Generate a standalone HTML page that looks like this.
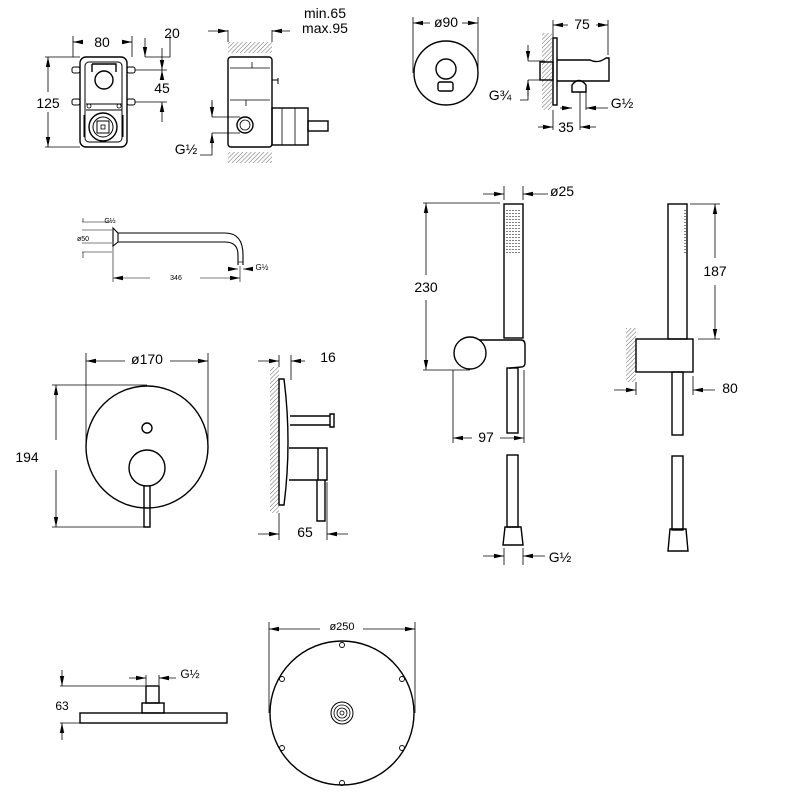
<!DOCTYPE html>
<html><head><meta charset="utf-8"><style>
html,body{margin:0;padding:0;background:#fff}
svg{display:block}
text{font-family:"Liberation Sans",sans-serif;fill:#000}
</style></head><body>
<svg width="800" height="800" viewBox="0 0 800 800" xmlns="http://www.w3.org/2000/svg">
<defs>
<marker id="a" viewBox="0 0 10 6" refX="10" refY="3" markerWidth="10" markerHeight="6" orient="auto-start-reverse" markerUnits="userSpaceOnUse"><path d="M0,0.8 L10,3 L0,5.2z" fill="#000"/></marker>
<pattern id="h" width="3" height="3" patternUnits="userSpaceOnUse" patternTransform="rotate(45)"><line x1="0" y1="0" x2="0" y2="3" stroke="#000" stroke-width="0.6"/></pattern>
</defs>
<g fill="none" stroke="#000" stroke-width="1.4">
<!-- Box front -->
<rect x="80" y="57" width="47" height="90" rx="6"/>
<rect x="85" y="62" width="37" height="80" rx="4" stroke-width="1"/>
<circle cx="104" cy="80" r="9"/>
<path d="M92 64 h24 v8 M92 64 v8"/>
<rect x="72" y="67" width="8" height="6" rx="2" stroke-width="1"/>
<rect x="127" y="67" width="8" height="6" rx="2" stroke-width="1"/>
<rect x="72" y="99" width="8" height="6" rx="2" stroke-width="1"/>
<rect x="127" y="99" width="8" height="6" rx="2" stroke-width="1"/>
<path d="M86 104 h36 M86 110 h36" stroke-width="1"/>
<circle cx="89" cy="106" r="2" stroke-width="0.8"/><circle cx="119" cy="106" r="2" stroke-width="0.8"/>
<circle cx="103" cy="127" r="14"/>
<circle cx="103" cy="127" r="10" stroke-width="1"/>
<rect x="97" y="121" width="12" height="12" stroke-width="1"/>
<rect x="101" y="125" width="4" height="4" stroke-width="0.8"/>
<path d="M84 115 v22 M123 115 v22" stroke-width="1"/>
<g stroke-width="0.8">
<path d="M73 57 V36 M132 57 V36 M45 57 H80 M45 147 H80 M145 57 H170 V35 M135 70 H167 M135 102 H167"/>
<line x1="73" y1="42" x2="82" y2="42"/><line x1="122" y1="42" x2="132" y2="42"/>
</g>
<line x1="82" y1="42" x2="73" y2="42" marker-end="url(#a)" stroke-width="0.8"/>
<line x1="122" y1="42" x2="132" y2="42" marker-end="url(#a)" stroke-width="0.8"/>
<line x1="48" y1="92" x2="48" y2="57" marker-end="url(#a)" stroke-width="0.8"/>
<line x1="48" y1="112" x2="48" y2="147" marker-end="url(#a)" stroke-width="0.8"/>
<line x1="145" y1="38" x2="145" y2="57" marker-end="url(#a)" stroke-width="0.8"/>
<line x1="162" y1="48" x2="162" y2="70" marker-end="url(#a)" stroke-width="0.8"/>
<line x1="162" y1="78" x2="162" y2="70" marker-end="url(#a)" stroke-width="0.8"/>
<line x1="162" y1="122" x2="162" y2="102" marker-end="url(#a)" stroke-width="0.8"/>
</g>
<text x="102" y="47" font-size="14" text-anchor="middle">80</text>
<text x="172" y="38" font-size="14" text-anchor="middle">20</text>
<text x="162" y="93" font-size="14" text-anchor="middle">45</text>
<text x="48" y="108" font-size="14" text-anchor="middle">125</text>

<!-- Box side -->
<rect x="228" y="42" width="44" height="11" fill="url(#h)"/>
<rect x="228" y="152" width="44" height="11" fill="url(#h)"/>
<g fill="none" stroke="#000" stroke-width="1.4">
<rect x="228" y="57" width="44" height="90" rx="3"/>
<path d="M230 68 H270 M230 100 H270 M252 68 V62 M246 100 V106" stroke-width="0.8"/>
<circle cx="245" cy="125" r="8"/><circle cx="245" cy="125" r="5" stroke-width="0.8"/>
<path d="M272 80 h6 M278 78 v6" stroke-width="1"/>
<rect x="272" y="108" width="36" height="37"/>
<path d="M282 108 v37 M295 108 v37" stroke-width="0.8"/>
<rect x="308" y="121" width="20" height="10"/>
<g stroke-width="0.8">
<path d="M228 30 V42 M272 30 V42 M212 117 H240 M212 133 H240 M212 100 V117 M212 133 V155 H200"/>
</g>
<line x1="212" y1="25" x2="228" y2="30" stroke="none"/>
<line x1="208" y1="31" x2="228" y2="31" marker-end="url(#a)" stroke-width="0.8"/>
<line x1="290" y1="31" x2="272" y2="31" marker-end="url(#a)" stroke-width="0.8"/>
<line x1="212" y1="102" x2="212" y2="117" marker-end="url(#a)" stroke-width="0.8"/>
<line x1="212" y1="148" x2="212" y2="133" marker-end="url(#a)" stroke-width="0.8"/>
</g>
<text x="325" y="18" font-size="14" text-anchor="middle">min.65</text>
<text x="325" y="33" font-size="14" text-anchor="middle">max.95</text>
<text x="186" y="154" font-size="14" text-anchor="middle">G½</text>

<!-- Wall outlet front -->
<g fill="none" stroke="#000" stroke-width="1.4">
<circle cx="446" cy="73" r="32"/>
<circle cx="446" cy="69" r="10"/>
<rect x="438" y="82" width="15" height="9" rx="2"/>
<g stroke-width="0.8"><path d="M413 73 V17 M478 73 V17"/></g>
<line x1="430" y1="23" x2="413" y2="23" marker-end="url(#a)" stroke-width="0.8"/>
<line x1="462" y1="23" x2="478" y2="23" marker-end="url(#a)" stroke-width="0.8"/>
</g>
<text x="446" y="27" font-size="14" text-anchor="middle">ø90</text>
<!-- Wall outlet side -->
<rect x="542" y="33" width="10" height="77" fill="url(#h)"/>
<g fill="none" stroke="#000" stroke-width="1.4">
<rect x="553" y="38" width="4" height="67"/>
<rect x="540" y="62" width="13" height="18"/>
<path d="M557 60 H590 Q598 64 606 58 H609 V81 H557"/>
<path d="M572 92 V85 Q579 76 586 85 V92 Z"/>
<g stroke-width="0.8"><path d="M553 38 V20 M608 55 V20 M553 110 V130 M580 92 V130 M586 92 V110 M528 61 H545 M528 80 H545 M528 80 V100 H520"/></g>
<line x1="568" y1="25" x2="553" y2="25" marker-end="url(#a)" stroke-width="0.8"/>
<line x1="596" y1="25" x2="608" y2="25" marker-end="url(#a)" stroke-width="0.8"/>
<line x1="538" y1="127" x2="553" y2="127" marker-end="url(#a)" stroke-width="0.8"/>
<line x1="596" y1="127" x2="580" y2="127" marker-end="url(#a)" stroke-width="0.8"/>
<line x1="560" y1="108" x2="572" y2="108" marker-end="url(#a)" stroke-width="0.8"/>
<line x1="608" y1="108" x2="586" y2="108" marker-end="url(#a)" stroke-width="0.8"/>
<line x1="528" y1="45" x2="528" y2="61" marker-end="url(#a)" stroke-width="0.8"/>
<line x1="528" y1="96" x2="528" y2="80" marker-end="url(#a)" stroke-width="0.8"/>
</g>
<text x="582" y="29" font-size="14" text-anchor="middle">75</text>
<text x="566" y="132" font-size="14" text-anchor="middle">35</text>
<text x="500" y="100" font-size="14" text-anchor="middle">G¾</text>
<text x="622" y="108" font-size="14" text-anchor="middle">G½</text>

<!-- Spout -->
<g fill="none" stroke="#000" stroke-width="1.1">
<path d="M113 228 L118 233 V242 L113 246 Z"/>
<path d="M118 233 H225 Q243 233 243 255 V265 M118 242 H225 Q238 242 238 255 V265"/>
<path d="M238 262 h5" stroke-width="0.7"/>
<g stroke-width="0.6"><path d="M113 246 V282 M240 266 V282 M82 222 H112 M82 230 H112 M82 243 H112 M82 252 H112 M83 218 V222 M83 252 V258"/></g>
<line x1="150" y1="278" x2="113" y2="278" marker-end="url(#a)" stroke-width="0.6"/>
<line x1="200" y1="278" x2="240" y2="278" marker-end="url(#a)" stroke-width="0.6"/>
<line x1="230" y1="269" x2="238" y2="269" marker-end="url(#a)" stroke-width="0.6"/>
<line x1="252" y1="269" x2="243" y2="269" marker-end="url(#a)" stroke-width="0.6"/>
</g>
<text x="176" y="280" font-size="7" text-anchor="middle">346</text>
<text x="83" y="241" font-size="7" text-anchor="middle">ø50</text>
<text x="110" y="223" font-size="7" text-anchor="middle">G½</text>
<text x="262" y="270" font-size="8" text-anchor="middle">G½</text>

<!-- Mixer front -->
<g fill="none" stroke="#000" stroke-width="1.4">
<circle cx="147" cy="447" r="61"/>
<circle cx="147" cy="428" r="5"/>
<circle cx="147" cy="468" r="18"/>
<path d="M144 486 V527 H150 V486"/>
<g stroke-width="0.8"><path d="M86 447 V353 M208 447 V353 M52 385 H147 M52 527 H147"/></g>
<line x1="125" y1="361" x2="86" y2="361" marker-end="url(#a)" stroke-width="0.8"/>
<line x1="170" y1="361" x2="208" y2="361" marker-end="url(#a)" stroke-width="0.8"/>
<line x1="56" y1="440" x2="56" y2="385" marker-end="url(#a)" stroke-width="0.8"/>
<line x1="56" y1="470" x2="56" y2="527" marker-end="url(#a)" stroke-width="0.8"/>
</g>
<text x="147" y="364" font-size="14" text-anchor="middle">ø170</text>
<text x="27" y="462" font-size="14" text-anchor="middle">194</text>
<!-- Mixer side -->
<rect x="270" y="367" width="9" height="146" fill="url(#h)"/>
<g fill="none" stroke="#000" stroke-width="1.4">
<path d="M279 379 H284 Q292 442 284 505 H279 Z"/>
<path d="M290 416 H330 M290 425 H330 M330 414 H334 V427 H330 Z"/>
<path d="M289 448 H327 V480 H289 M318 448 V480"/>
<path d="M317 480 V521 H325 V480"/>
<g stroke-width="0.8"><path d="M279 367 V355 M291 380 V355 M279 513 V540 M327 482 V540"/></g>
<line x1="258" y1="361" x2="279" y2="361" marker-end="url(#a)" stroke-width="0.8"/>
<line x1="305" y1="361" x2="291" y2="361" marker-end="url(#a)" stroke-width="0.8"/>
<line x1="258" y1="534" x2="279" y2="534" marker-end="url(#a)" stroke-width="0.8"/>
<line x1="348" y1="534" x2="327" y2="534" marker-end="url(#a)" stroke-width="0.8"/>
</g>
<text x="328" y="362" font-size="14" text-anchor="middle">16</text>
<text x="305" y="537" font-size="14" text-anchor="middle">65</text>

<!-- Hand shower front -->
<g fill="none" stroke="#000" stroke-width="1.4">
<rect x="504" y="204" width="19" height="134"/>
<path d="M507 210 v43 M510 210 v43 M513 210 v43 M516 210 v43 M519 210 v43" stroke-width="1" stroke-dasharray="1 2"/>
<path d="M470 340 H521 Q525 340 525 345 V363 Q525 367 521 367 L510 368 V369"/>
<circle cx="470" cy="353" r="16" fill="#fff"/>
<rect x="507" y="368" width="11" height="65"/>
<rect x="507" y="455" width="11" height="72"/>
<path d="M505 527 H521 L523 545 H503 Z"/>
<g stroke-width="0.8"><path d="M423 203 H500 M423 370 H470 M504 186 V200 M523 186 V200 M453 370 V443 M524 370 V443 M504 548 V565 M523 548 V565"/></g>
<line x1="426" y1="275" x2="426" y2="203" marker-end="url(#a)" stroke-width="0.8"/>
<line x1="426" y1="300" x2="426" y2="370" marker-end="url(#a)" stroke-width="0.8"/>
<line x1="483" y1="194" x2="504" y2="194" marker-end="url(#a)" stroke-width="0.8"/>
<line x1="548" y1="194" x2="523" y2="194" marker-end="url(#a)" stroke-width="0.8"/>
<line x1="472" y1="438" x2="453" y2="438" marker-end="url(#a)" stroke-width="0.8"/>
<line x1="500" y1="438" x2="524" y2="438" marker-end="url(#a)" stroke-width="0.8"/>
<line x1="483" y1="556" x2="504" y2="556" marker-end="url(#a)" stroke-width="0.8"/>
<line x1="545" y1="556" x2="523" y2="556" marker-end="url(#a)" stroke-width="0.8"/>
</g>
<text x="562" y="196" font-size="14" text-anchor="middle">ø25</text>
<text x="426" y="292" font-size="14" text-anchor="middle">230</text>
<text x="486" y="442" font-size="14" text-anchor="middle">97</text>
<text x="560" y="562" font-size="14" text-anchor="middle">G½</text>

<!-- Hand shower side -->
<rect x="626" y="328" width="10" height="54" fill="url(#h)"/>
<g fill="none" stroke="#000" stroke-width="1.4">
<rect x="668" y="204" width="19" height="135"/>
<path d="M685 210 v43" stroke-width="1" stroke-dasharray="1 2"/>
<rect x="636" y="339" width="57" height="33"/>
<rect x="672" y="372" width="11" height="63"/>
<rect x="672" y="456" width="11" height="74"/>
<path d="M670 529 H686 L688 551 H668 Z"/>
<g stroke-width="0.8"><path d="M690 204 H720 M698 339 H720 M636 382 V395 M693 376 V395"/></g>
<line x1="715" y1="258" x2="715" y2="204" marker-end="url(#a)" stroke-width="0.8"/>
<line x1="715" y1="285" x2="715" y2="339" marker-end="url(#a)" stroke-width="0.8"/>
<line x1="614" y1="390" x2="636" y2="390" marker-end="url(#a)" stroke-width="0.8"/>
<line x1="715" y1="390" x2="693" y2="390" marker-end="url(#a)" stroke-width="0.8"/>
</g>
<text x="715" y="276" font-size="14" text-anchor="middle">187</text>
<text x="730" y="393" font-size="14" text-anchor="middle">80</text>

<!-- Shower head side -->
<g fill="none" stroke="#000" stroke-width="1.4">
<rect x="80" y="713" width="147" height="10"/>
<rect x="142" y="703" width="22" height="10"/>
<rect x="146" y="686" width="13" height="17"/>
<g stroke-width="0.8"><path d="M60 686 H146 M60 723 H80 M146 675 V685 M159 675 V685"/></g>
<line x1="62" y1="670" x2="62" y2="686" marker-end="url(#a)" stroke-width="0.8"/>
<line x1="62" y1="740" x2="62" y2="723" marker-end="url(#a)" stroke-width="0.8"/>
<line x1="129" y1="678" x2="146" y2="678" marker-end="url(#a)" stroke-width="0.8"/>
<line x1="176" y1="678" x2="159" y2="678" marker-end="url(#a)" stroke-width="0.8"/>
</g>
<text x="62" y="710" font-size="12" text-anchor="middle">63</text>
<text x="190" y="678" font-size="12" text-anchor="middle">G½</text>

<!-- Shower head top -->
<g fill="none" stroke="#000" stroke-width="1.4">
<circle cx="342" cy="713" r="72"/>
<circle cx="342" cy="713" r="11" stroke-width="1"/>
<circle cx="342" cy="713" r="8" stroke-width="0.8"/>
<circle cx="342" cy="713" r="5" stroke-width="0.8"/>
<circle cx="342" cy="713" r="2" stroke-width="0.8"/>
<g stroke-width="0.9">
<circle cx="342" cy="645" r="2.5"/><circle cx="282" cy="679" r="2.5"/><circle cx="402" cy="679" r="2.5"/>
<circle cx="282" cy="748" r="2.5"/><circle cx="402" cy="748" r="2.5"/><circle cx="342" cy="783" r="2.5"/>
</g>
<g stroke-width="0.8"><path d="M269 713 V622 M415 713 V622"/></g>
<line x1="320" y1="629" x2="269" y2="629" marker-end="url(#a)" stroke-width="0.8"/>
<line x1="363" y1="629" x2="415" y2="629" marker-end="url(#a)" stroke-width="0.8"/>
</g>
<text x="342" y="630" font-size="11" text-anchor="middle">ø250</text>
</svg>
</body></html>
